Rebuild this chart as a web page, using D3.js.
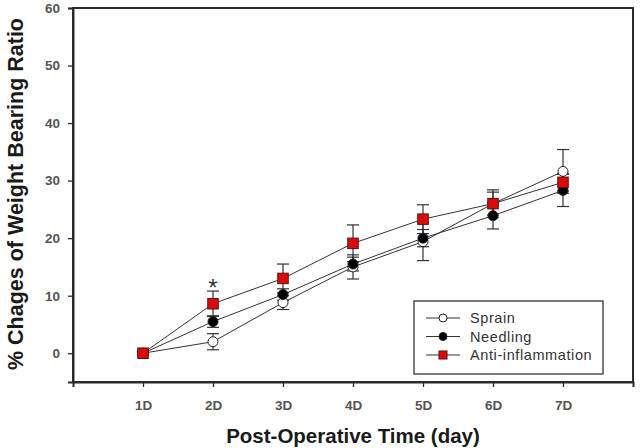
<!DOCTYPE html>
<html>
<head>
<meta charset="utf-8">
<script src="https://cdn.jsdelivr.net/npm/d3@7"></script>
<style>
  body { margin: 0; background: #fff; }
  svg { display: block; font-family: "Liberation Sans", Arial, sans-serif; }
</style>
</head>
<body>
<div class="chart"></div>
<script>
// data
const days = ["1D", "2D", "3D", "4D", "5D", "6D", "7D"];
const yTicks = [0, 10, 20, 30, 40, 50, 60];

const sprain = [0, 2.0, 8.8, 15.0, 19.4, 26.0, 31.6];
const sprainErr = [0.3, 1.4, 1.2, 2.1, 3.3, 2.0, 3.8];
const needling = [0, 5.5, 10.2, 15.5, 20.0, 23.9, 28.3];
const needlingErr = [0.3, 1.0, 1.0, 1.2, 1.5, 2.3, 2.8];
const antiInfl = [0, 8.6, 13.0, 19.1, 23.3, 26.0, 29.7];
const antiInflErr = [0.3, 2.2, 2.5, 3.2, 2.5, 2.4, 1.5];

const seriesNames = ["Sprain", "Needling", "Anti-inflammation"];
const starDay = "2D";

const margin = { top: 8, right: 8, bottom: 66, left: 73 };
const W = 641, H = 448;
const width = W - margin.left - margin.right,
  height = H - margin.top - margin.bottom;

const series = [
  { name: seriesNames[0], values: sprain, err: sprainErr, shape: "circle", fill: "#fff" },
  { name: seriesNames[1], values: needling, err: needlingErr, shape: "circle", fill: "#000" },
  { name: seriesNames[2], values: antiInfl, err: antiInflErr, shape: "square", fill: "#dd0a0a" }
];

const x = d3.scaleLinear().domain([0, days.length + 1]).range([0, width]);
const y = d3.scaleLinear().domain([-5, 60]).range([height, 0]);

const svg = d3.select(".chart").append("svg")
  .attr("width", W)
  .attr("height", H)
  .append("g")
  .attr("transform", "translate(" + margin.left + "," + margin.top + ")");

// frame
svg.append("rect")
  .attr("width", width)
  .attr("height", height)
  .attr("fill", "none")
  .attr("stroke", "#2a2a2a")
  .attr("stroke-width", 2);

// axes
const yAxis = svg.append("g")
  .call(d3.axisLeft(y).tickValues(yTicks).tickSize(5).tickPadding(8));
const xAxis = svg.append("g")
  .attr("transform", "translate(0," + height + ")")
  .call(d3.axisBottom(x).tickValues(days.map((d, i) => i + 1))
    .tickFormat((d) => days[d - 1]).tickSize(5).tickPadding(13));

[yAxis, xAxis].forEach(function (ax) {
  ax.select(".domain").attr("stroke", "#2a2a2a").attr("stroke-width", 2);
  ax.selectAll(".tick line").attr("stroke", "#2a2a2a").attr("stroke-width", 1.3);
  ax.selectAll(".tick text")
    .attr("fill", "#555")
    .style("font-size", "13.5px")
    .style("font-weight", "bold");
});

// axis titles
svg.append("text")
  .attr("transform", "translate(" + (-50) + "," + (height / 2 - 1) + ") rotate(-90)")
  .attr("text-anchor", "middle")
  .style("font-size", "21.5px")
  .style("font-weight", "bold")
  .attr("fill", "#1a1a1a")
  .text("% Chages of Weight Bearing Ratio");

svg.append("text")
  .attr("x", width / 2)
  .attr("y", height + 61)
  .attr("text-anchor", "middle")
  .style("font-size", "20.5px")
  .style("font-weight", "bold")
  .attr("fill", "#1a1a1a")
  .text("Post-Operative Time (day)");

const line = d3.line()
  .x((d, i) => x(i + 1))
  .y((d) => y(d));

// error bars
series.forEach(function (s) {
  const g = svg.append("g").attr("stroke", "#333").attr("stroke-width", 1.2);
  s.values.forEach(function (v, i) {
    const cx = x(i + 1);
    g.append("line").attr("x1", cx).attr("x2", cx)
      .attr("y1", y(v - s.err[i])).attr("y2", y(v + s.err[i]));
    [v - s.err[i], v + s.err[i]].forEach(function (e) {
      g.append("line").attr("x1", cx - 6).attr("x2", cx + 6)
        .attr("y1", y(e)).attr("y2", y(e));
    });
  });
});

// lines
series.forEach(function (s) {
  svg.append("path")
    .datum(s.values)
    .attr("fill", "none")
    .attr("stroke", "#333")
    .attr("stroke-width", 1)
    .attr("d", line);
});

function drawMarker(g, s, cx, cy, size) {
  if (s.shape === "circle") {
    g.append("circle").attr("cx", cx).attr("cy", cy).attr("r", size / 2)
      .attr("fill", s.fill).attr("stroke", "#222").attr("stroke-width", 1);
  } else {
    g.append("rect").attr("x", cx - size / 2).attr("y", cy - size / 2)
      .attr("width", size).attr("height", size)
      .attr("fill", s.fill).attr("stroke", "#5a1010").attr("stroke-width", 1);
  }
}

// markers
series.forEach(function (s) {
  const g = svg.append("g");
  s.values.forEach(function (v, i) { drawMarker(g, s, x(i + 1), y(v), s.shape === "circle" ? 10 : 10.5); });
});

// significance star above anti-inflammation at 2D
const si = days.indexOf(starDay);
svg.append("text")
  .attr("x", x(si + 1))
  .attr("y", y(antiInfl[si] + antiInflErr[si]) + 5)
  .attr("text-anchor", "middle")
  .style("font-size", "24px")
  .attr("fill", "#333")
  .text("*");

// legend
const legend = svg.append("g")
  .attr("transform", "translate(" + (414 - margin.left) + "," + (301 - margin.top) + ")");
legend.append("rect")
  .attr("width", 189)
  .attr("height", 73)
  .attr("fill", "#fff")
  .attr("stroke", "#333")
  .attr("stroke-width", 1.3);
series.forEach(function (s, i) {
  const ly = 17 + i * 18.5;
  legend.append("line").attr("x1", 12).attr("x2", 46).attr("y1", ly).attr("y2", ly)
    .attr("stroke", "#333").attr("stroke-width", 1);
  drawMarker(legend, s, 29, ly, 8);
  legend.append("text")
    .attr("x", 56)
    .attr("y", ly + 5)
    .style("font-size", "14.5px")
    .style("letter-spacing", "0.6px")
    .attr("fill", "#333")
    .text(s.name);
});
</script>
</body>
</html>
